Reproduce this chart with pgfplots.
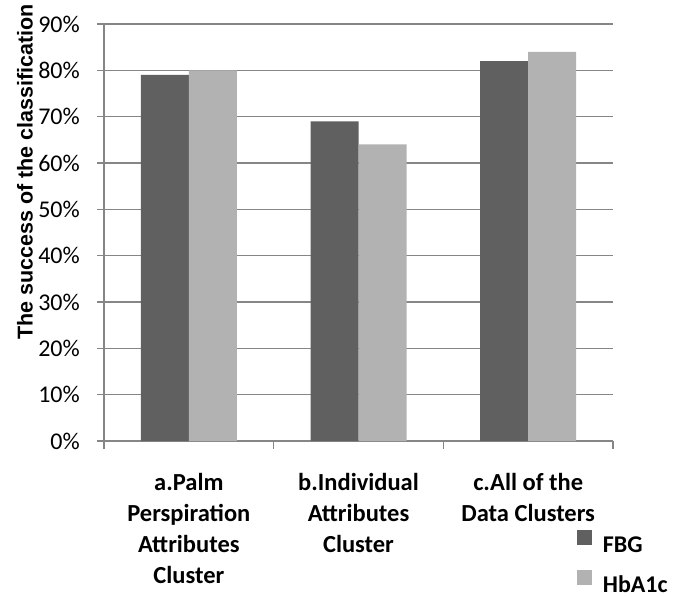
\documentclass[border=0pt]{standalone}
\usepackage{fontspec}
\setmainfont{Carlito}
\newfontfamily\arialfont{Liberation Sans}
\usepackage{pgfplots}
\pgfplotsset{compat=1.18}
\definecolor{fbg}{HTML}{606060}
\definecolor{hba}{HTML}{B2B2B2}
\definecolor{gridc}{HTML}{868686}
\begin{document}
\begin{tikzpicture}
\useasboundingbox (-104bp,-157bp) rectangle (577bp,441bp);
\begin{axis}[
  at={(0,0)}, anchor=south west,
  scale only axis, width=509bp, height=417bp,
  ymin=0, ymax=90, xmin=-0.5, xmax=2.5,
  axis lines*=left,
  axis line style={gridc, line width=1.3bp},
  ybar=0pt, bar width=48bp,
  xtick={0,1,2},
  xticklabels={{a.Palm\\Perspiration\\Attributes\\Cluster},{b.Individual\\Attributes\\Cluster},{c.All of the\\Data Clusters}},
  minor xtick={-0.5,0.5,1.5,2.5},
  major x tick style={draw=none},
  ytick={0,10,20,30,40,50,60,70,80,90},
  yticklabels={0\%,10\%,20\%,30\%,40\%,50\%,60\%,70\%,80\%,90\%},
  ymajorgrids,
  major grid style={gridc, line width=1.3bp},
  tick style={gridc, line width=1.3bp},
  tick align=outside,
  major tick length=7bp, minor tick length=8bp,
  xticklabel style={font=\bfseries\fontsize{24.5bp}{31bp}\selectfont, align=center, anchor=north, yshift=-25bp, inner sep=0pt},
  yticklabel style={font=\fontsize{24bp}{29bp}\selectfont, anchor=east, inner sep=0pt, xshift=-17bp},
  ylabel={The success of the classification},
  ylabel style={font=\arialfont\bfseries\fontsize{21.5bp}{25bp}\selectfont, at={(rel axis cs:-0.1552,0.645)}, anchor=center},
  legend style={at={(rel axis cs:0.929,-0.214)}, anchor=north west, draw=none, fill=none, inner sep=0pt, outer sep=0pt, row sep=16bp, column sep=11bp, font=\bfseries\fontsize{24bp}{29bp}\selectfont, nodes={inner sep=0pt}},
  legend cell align=left,
  legend image code/.code={\fill[#1] (0bp,0bp) rectangle (15bp,15bp);},
]
\addplot[fill=fbg, draw=none] coordinates {(0,79) (1,69) (2,82)};
\addplot[fill=hba, draw=none] coordinates {(0,80) (1,64) (2,84)};
\legend{FBG,HbA1c}
\end{axis}
\end{tikzpicture}
\end{document}
